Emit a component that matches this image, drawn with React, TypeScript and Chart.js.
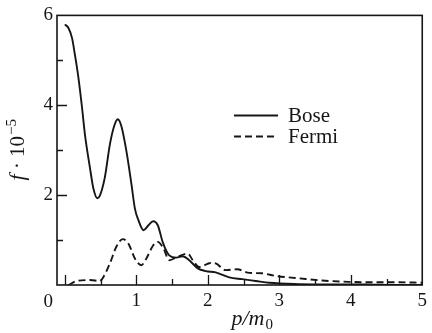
import { useEffect, useRef } from 'react';
import { Chart, registerables } from 'chart.js';

Chart.register(...registerables);

// Momentum (p/m0) and distribution values (f · 10^-5)
const bosePm = [0.0, 0.05, 0.1, 0.14, 0.19, 0.24, 0.28, 0.35, 0.4, 0.455, 0.49, 0.56, 0.63, 0.69, 0.74, 0.79, 0.86, 0.93, 0.98, 1.03, 1.1, 1.17, 1.235, 1.3, 1.37, 1.46, 1.56, 1.65, 1.74, 1.86, 1.97, 2.11, 2.3, 2.48, 2.67, 2.86, 3.27, 3.7, 4.2, 4.6, 5.0];
const boseF = [5.8, 5.72, 5.5, 5.13, 4.61, 3.95, 3.36, 2.62, 2.14, 1.93, 1.99, 2.4, 3.13, 3.54, 3.69, 3.54, 2.99, 2.26, 1.7, 1.44, 1.22, 1.33, 1.42, 1.33, 0.95, 0.66, 0.61, 0.64, 0.55, 0.37, 0.31, 0.28, 0.17, 0.13, 0.09, 0.05, 0.02, 0.01, 0.01, 0.0, 0.0];

const fermiPm = [0.05, 0.17, 0.35, 0.49, 0.54, 0.63, 0.72, 0.81, 0.89, 0.98, 1.07, 1.14, 1.235, 1.3, 1.38, 1.46, 1.58, 1.72, 1.79, 1.88, 2.04, 2.11, 2.25, 2.41, 2.58, 2.76, 2.95, 3.27, 3.6, 3.97, 4.34, 4.67, 5.0];
const fermiF = [0.0, 0.09, 0.11, 0.09, 0.18, 0.48, 0.85, 1.02, 0.92, 0.59, 0.44, 0.59, 0.88, 0.96, 0.81, 0.55, 0.63, 0.7, 0.55, 0.4, 0.49, 0.48, 0.33, 0.35, 0.27, 0.26, 0.2, 0.15, 0.1, 0.07, 0.06, 0.06, 0.05];

const seriesNames = ['Bose', 'Fermi'];

const xTickLabels = [1, 2, 3, 4, 5];
const yTickLabels = [2, 4, 6];
const xTickMarks = [0, 0.5, 1, 1.5, 2, 2.5, 3, 3.5, 4, 4.5];
const yTickMarks = [1, 2, 3, 4, 5];

const INK = '#161616';
const SERIF = '"Liberation Serif", "Times New Roman", serif';

const decorations = {
  id: 'decorations',
  afterDatasetsDraw(chart: any) {
    const { ctx, chartArea: a, scales } = chart;
    const x = scales.x;
    const y = scales.y;
    ctx.save();
    ctx.strokeStyle = INK;
    ctx.fillStyle = INK;
    ctx.lineWidth = 1.6;
    ctx.setLineDash([]);

    // frame
    ctx.strokeRect(a.left, a.top, a.right - a.left, a.bottom - a.top);

    // inward tick marks
    ctx.lineWidth = 1.3;
    ctx.beginPath();
    for (const v of xTickMarks) {
      const px = Math.round(x.getPixelForValue(v)) + 0.5;
      const len = Number.isInteger(v) ? 10 : 6;
      ctx.moveTo(px, a.bottom);
      ctx.lineTo(px, a.bottom - len);
    }
    for (const v of yTickMarks) {
      const py = Math.round(y.getPixelForValue(v)) + 0.5;
      const len = v % 2 === 0 ? 10 : 6;
      ctx.moveTo(a.left, py);
      ctx.lineTo(a.left + len, py);
    }
    ctx.stroke();

    // shared origin label
    ctx.font = `19px ${SERIF}`;
    ctx.textAlign = 'right';
    ctx.textBaseline = 'alphabetic';
    ctx.fillText('0', a.left - 4, a.bottom + 22);

    // x title: p/m0
    const cx = (a.left + a.right) / 2 + 12;
    const by = 325;
    const main = 'p/m';
    ctx.font = `15px ${SERIF}`;
    const subW = ctx.measureText('0').width;
    ctx.font = `italic 22px ${SERIF}`;
    const mainW = ctx.measureText(main).width;
    const startX = cx - (mainW + subW) / 2;
    ctx.textAlign = 'left';
    ctx.fillText(main, startX, by);
    ctx.font = `15px ${SERIF}`;
    ctx.fillText('0', startX + mainW + 1, by + 4);

    // y title: f · 10^-5 (rotated)
    ctx.save();
    ctx.translate(24, (a.top + a.bottom) / 2);
    ctx.rotate(-Math.PI / 2);
    ctx.font = `italic 22px ${SERIF}`;
    const fW = ctx.measureText('f').width;
    ctx.font = `21px ${SERIF}`;
    const midW = ctx.measureText(' · 10').width;
    ctx.font = `15px ${SERIF}`;
    const supW = ctx.measureText('\u22125').width;
    let tx = -(fW + midW + supW) / 2;
    ctx.textAlign = 'left';
    ctx.font = `italic 22px ${SERIF}`;
    ctx.fillText('f', tx, 0);
    tx += fW;
    ctx.font = `21px ${SERIF}`;
    ctx.fillText(' · 10', tx, 0);
    tx += midW + 1;
    ctx.font = `15px ${SERIF}`;
    ctx.fillText('\u22125', tx, -8);
    ctx.restore();

    // legend
    const lx0 = 234;
    const lx1 = 278;
    const rows = [115, 136];
    chart.data.datasets.forEach((ds: any, i: number) => {
      const ly = rows[i] + 0.5;
      ctx.lineWidth = 1.8;
      ctx.setLineDash(ds.borderDash || []);
      ctx.beginPath();
      ctx.moveTo(lx0, ly);
      ctx.lineTo(lx1, ly);
      ctx.stroke();
      ctx.setLineDash([]);
      ctx.font = `21px ${SERIF}`;
      ctx.textAlign = 'left';
      ctx.textBaseline = 'alphabetic';
      ctx.fillText(ds.label, 288, rows[i] + 7);
    });

    ctx.restore();
  },
};

export default function App() {
  const canvasRef = useRef<HTMLCanvasElement | null>(null);

  useEffect(() => {
    const canvas = canvasRef.current;
    if (!canvas) return;
    const chart = new Chart(canvas, {
      type: 'line',
      data: {
        datasets: [
          {
            label: seriesNames[0],
            data: bosePm.map((p, i) => ({ x: p, y: boseF[i] })),
            borderColor: INK,
            borderWidth: 1.9,
            pointRadius: 0,
            cubicInterpolationMode: 'monotone',
            fill: false,
          },
          {
            label: seriesNames[1],
            data: fermiPm.map((p, i) => ({ x: p, y: fermiF[i] })),
            borderColor: INK,
            borderWidth: 1.9,
            borderDash: [7, 4],
            pointRadius: 0,
            cubicInterpolationMode: 'monotone',
            fill: false,
          },
        ],
      },
      options: {
        responsive: false,
        animation: false,
        events: [],
        layout: { padding: { top: 14, right: 7, left: 0, bottom: 0 } },
        plugins: {
          legend: { display: false },
          tooltip: { enabled: false },
          title: { display: false },
        },
        scales: {
          x: {
            type: 'linear',
            min: -0.11,
            max: 5,
            border: { display: false },
            grid: { display: false, drawTicks: false },
            afterBuildTicks: (s: any) => {
              s.ticks = xTickLabels.map((v) => ({ value: v }));
            },
            afterFit: (s: any) => {
              s.height = 48;
            },
            ticks: {
              color: INK,
              padding: 5,
              maxRotation: 0,
              autoSkip: false,
              font: { family: SERIF, size: 19 },
              callback: (v: any) => String(v),
            },
          },
          y: {
            type: 'linear',
            min: 0,
            max: 6,
            border: { display: false },
            grid: { display: false, drawTicks: false },
            afterBuildTicks: (s: any) => {
              s.ticks = yTickLabels.map((v) => ({ value: v }));
            },
            afterFit: (s: any) => {
              s.width = 57;
            },
            ticks: {
              color: INK,
              padding: 4,
              autoSkip: false,
              font: { family: SERIF, size: 19 },
              callback: (v: any) => String(v),
            },
          },
        },
      },
      plugins: [decorations],
    });
    return () => chart.destroy();
  }, []);

  return (
    <div style={{ position: 'absolute', left: 0, top: 0, width: 432, height: 333, background: '#fff' }}>
      <canvas ref={canvasRef} width={432} height={333} style={{ display: 'block' }} />
    </div>
  );
}
